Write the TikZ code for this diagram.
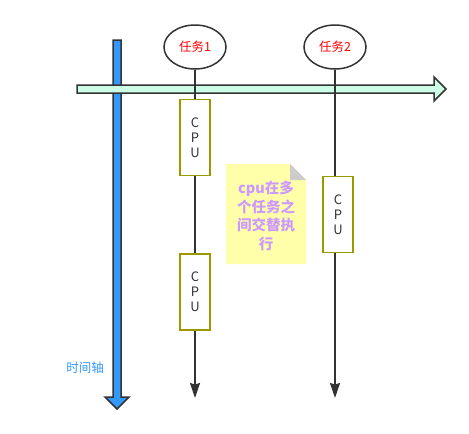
\documentclass[tikz,border=0pt]{standalone}
\usepackage{fontspec}
\setmainfont{Noto Sans CJK SC}
\usepackage{tikz}
\usetikzlibrary{arrows.meta,positioning,shapes.geometric}
\definecolor{axisblue}{HTML}{3399FF}
\definecolor{axisgreen}{HTML}{CCFFE6}
\definecolor{linegray}{HTML}{333333}
\definecolor{boxolive}{HTML}{999900}
\definecolor{noteyellow}{HTML}{FFFFAA}
\definecolor{notepurple}{HTML}{CC99FF}

\begin{document}
\begin{tikzpicture}[x=1pt,y=-1pt,
    task/.style={draw=linegray,line width=1.5pt,ellipse,minimum width=62pt,minimum height=44pt,inner sep=0pt,text=red,font=\fontsize{12.5}{14}\selectfont},
    cpubox/.style={draw=boxolive,line width=1.6pt,fill=white,minimum width=30pt,minimum height=76pt,inner sep=0pt,align=center,text=linegray,font=\fontsize{13}{15}\selectfont},
    life/.style={draw=linegray,line width=1.5pt,-{Stealth[length=15pt,width=10pt,inset=1.5pt]}}]
            \useasboundingbox (0,0) rectangle (469,434);

            % time axis (blue) and task axis (green)
            \filldraw[fill=axisblue,draw=linegray,line width=1.5pt,line join=miter] (113,40) -- (121,40) -- (121,397) -- (129,397) -- (117,409) -- (105,397) -- (113,397) -- cycle;
            \filldraw[fill=axisgreen,draw=linegray,line width=1.5pt,line join=miter] (77,85) -- (434,85) -- (434,77) -- (446,89) -- (434,101) -- (434,93) -- (77,93) -- cycle;
            \node[text=axisblue,font=\fontsize{12.5}{14}\selectfont] (axislabel) at (85,368) {时间轴};

            % tasks
            \node[task] (task1) at (195,47) {任务1};
            \node[task] (task2) at (335,47) {任务2};
            \coordinate (end1) at (195,398);
            \coordinate (end2) at (335,398);
            \draw[life] (task1) -- (end1);
            \draw[life] (task2) -- (end2);

            % cpu slots
            \node[cpubox] (cpu1) at (195,137.5) {C\\P\\U};
            \node[cpubox] (cpu2) at (195,292) {C\\P\\U};
            \node[cpubox] (cpu3) at (338,214.5) {C\\P\\U};

            % note
            \fill[noteyellow] (226,164) -- (290,164) -- (306,180) -- (306,264) -- (226,264) -- cycle;
            \fill[black!20] (290,164) -- (306,180) -- (290,180) -- cycle;
            \node[text=notepurple,font=\bfseries\fontsize{14.5}{18.5}\selectfont,align=center] (note) at (266,216) {cpu在多\\个任务之\\间交替执\\行};
        \end{tikzpicture}
\end{document}
